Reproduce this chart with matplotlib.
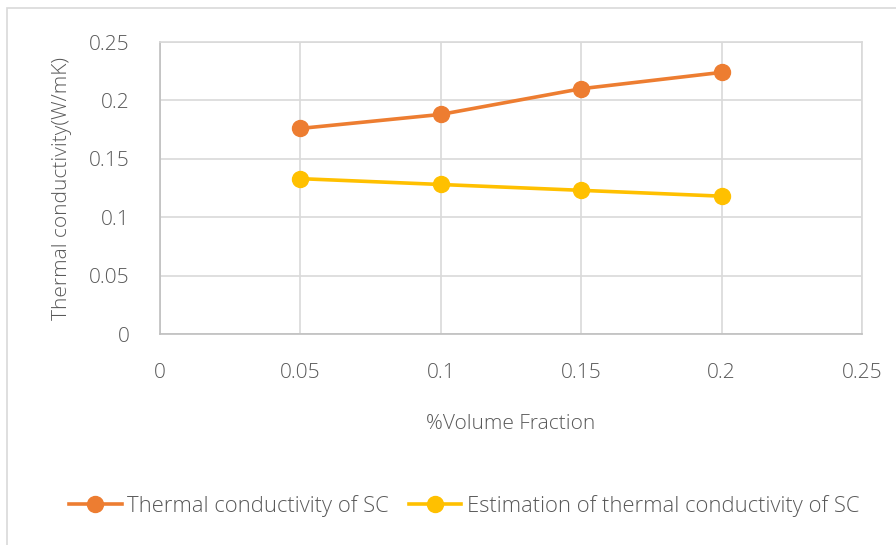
import matplotlib
matplotlib.use("Agg")
import matplotlib.pyplot as plt
from matplotlib.patches import Rectangle
from matplotlib.lines import Line2D

plt.rcParams['font.family'] = ['Open Sans', 'DejaVu Sans']
plt.rcParams['font.weight'] = 'light'
plt.rcParams['axes.labelweight'] = 'light'

volume_fraction = [0.05, 0.10, 0.15, 0.20]
measured_k = [0.176, 0.188, 0.210, 0.224]
estimated_k = [0.133, 0.128, 0.123, 0.118]
series_names = ["Thermal conductivity of SC",
                "Estimation of thermal conductivity of SC"]
x_ticks = [0, 0.05, 0.10, 0.15, 0.20, 0.25]
x_tick_labels = ["0", "0.05", "0.1", "0.15", "0.2", "0.25"]
y_ticks = [0, 0.05, 0.10, 0.15, 0.20, 0.25]
y_tick_labels = ["0", "0.05", "0.1", "0.15", "0.2", "0.25"]

text_color = "#595959"
grid_color = "#D9D9D9"
orange = "#ED7D31"
yellow = "#FFC000"
fs = 15

W, H = 896, 545
fig = plt.figure(figsize=(W / 100, H / 100), dpi=100)

# chart area border
fig.patches.append(Rectangle((7 / W, -0.1), 1.2, 1 - 8 / H + 0.1,
                             transform=fig.transFigure, fill=False,
                             edgecolor=grid_color, linewidth=1.2))

ax = fig.add_axes([160 / W, 1 - 334 / H, 702 / W, 292 / H])
ax.plot(volume_fraction, measured_k, color=orange, lw=2.6, marker='o',
        ms=11.5, label=series_names[0], solid_capstyle='round')
ax.plot(volume_fraction, estimated_k, color=yellow, lw=2.6, marker='o',
        ms=11.5, label=series_names[1], solid_capstyle='round')

ax.set_xlim(0, 0.25)
ax.set_ylim(0, 0.25)
ax.set_xticks(x_ticks)
ax.set_xticklabels(x_tick_labels)
ax.set_yticks(y_ticks)
ax.set_yticklabels(y_tick_labels)
ax.grid(True, color=grid_color, lw=1.2)
ax.set_axisbelow(True)
for side in ("top", "right"):
    ax.spines[side].set_color(grid_color)
    ax.spines[side].set_linewidth(1.2)
for side in ("left", "bottom"):
    ax.spines[side].set_color("#BFBFBF")
    ax.spines[side].set_linewidth(1.2)
ax.tick_params(length=0, labelsize=fs, colors=text_color)
ax.tick_params(axis='y', pad=22)
ax.tick_params(axis='x', pad=21)

ax.set_xlabel("%Volume Fraction", fontsize=fs, color=text_color, labelpad=22)
ax.set_ylabel("Thermal conductivity(W/mK)", fontsize=fs, color=text_color,
              labelpad=12)

handles = [Line2D([], [], color=orange, lw=2.6, marker='o', ms=11.5),
           Line2D([], [], color=yellow, lw=2.6, marker='o', ms=11.5)]
fig.legend(handles, series_names, loc='center', bbox_to_anchor=(464 / W, 1 - 506 / H),
           ncol=2, frameon=False, fontsize=15.8, labelcolor=text_color,
           handlelength=2.4, handletextpad=0.25, columnspacing=0.9)

fig.savefig("out.png", dpi=100)
